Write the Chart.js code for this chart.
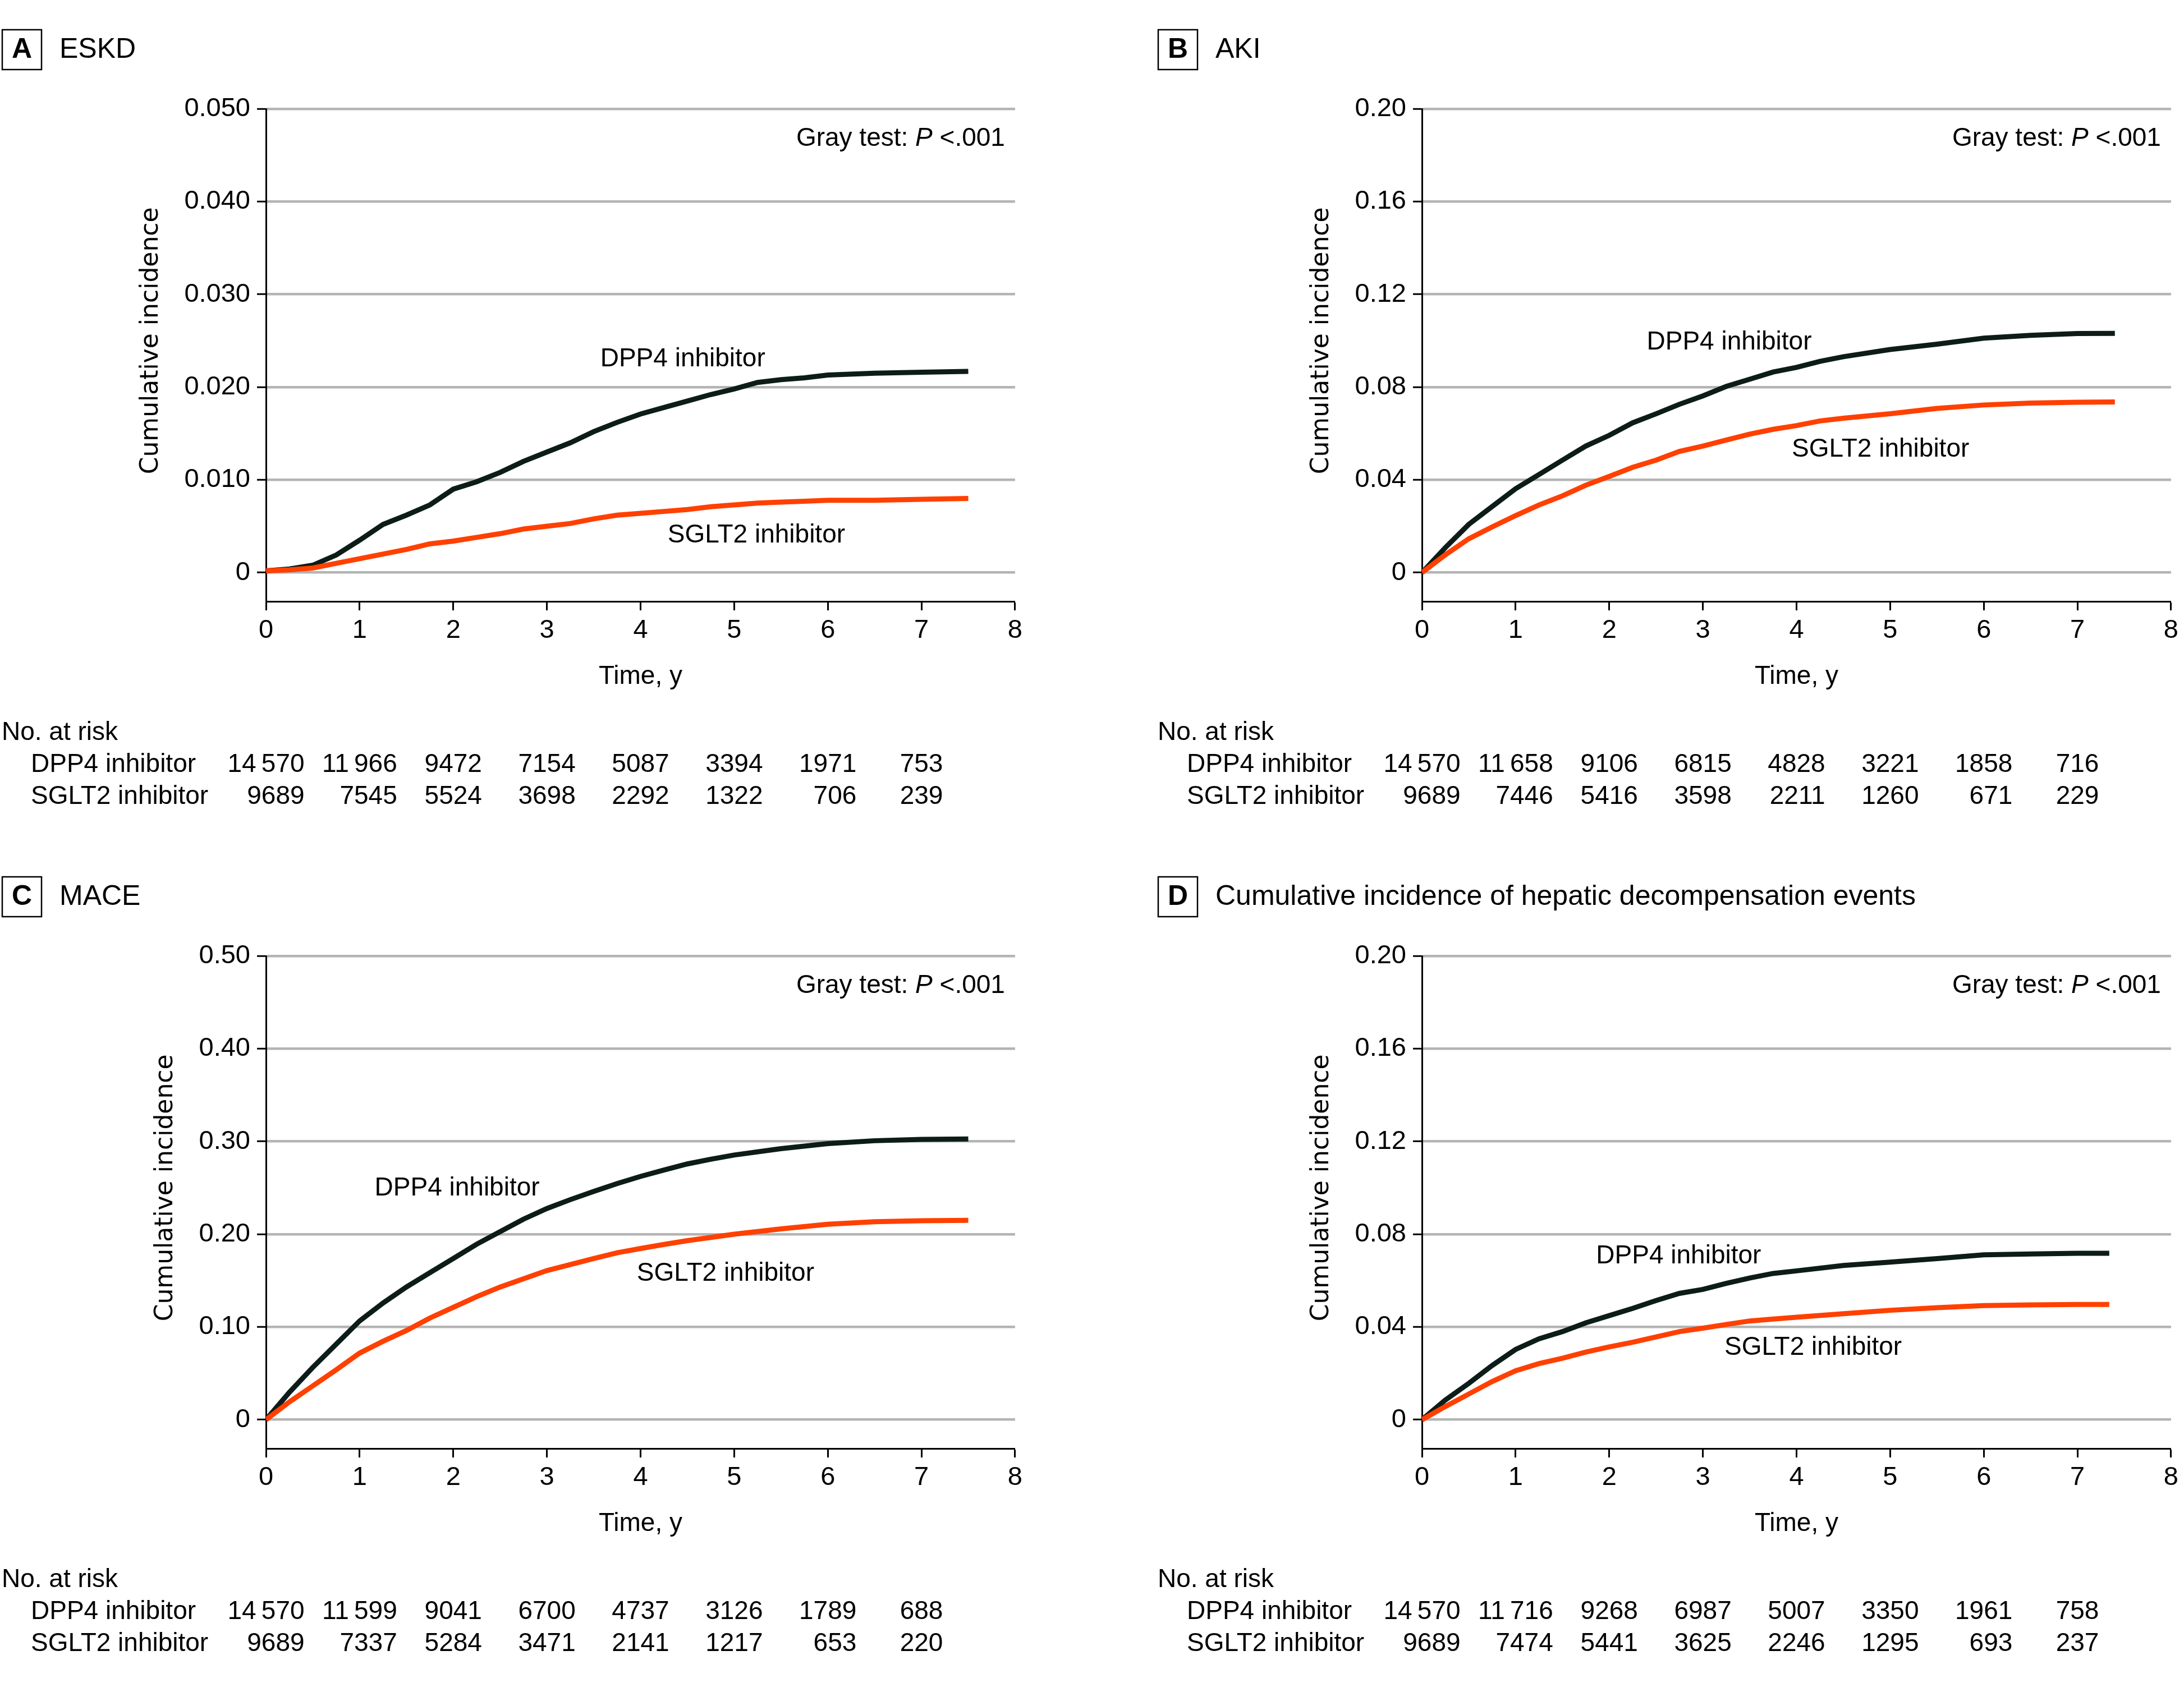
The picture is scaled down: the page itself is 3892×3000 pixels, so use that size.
<!DOCTYPE html>
<html lang="en">
<head>
<meta charset="UTF-8">
<title>Cumulative incidence: SGLT2 vs DPP4 inhibitor</title>
<script src="https://cdn.jsdelivr.net/npm/chart.js"></script>
<style>
  body { margin: 0; background: #fff; width: 3892px; height: 3000px; position: relative; overflow: hidden; }
  canvas { position: absolute; }
</style>
</head>
<body>
<canvas id="panelA" width="1830" height="1490" style="left:0px; top:0px;"></canvas>
<canvas id="panelB" width="1830" height="1490" style="left:2060px; top:0px;"></canvas>
<canvas id="panelC" width="1830" height="1490" style="left:0px; top:1510px;"></canvas>
<canvas id="panelD" width="1830" height="1490" style="left:2060px; top:1510px;"></canvas>

<script>
// ---- data ----
const seriesNames = ["DPP4 inhibitor", "SGLT2 inhibitor"]
const xTickLabels = ["0", "1", "2", "3", "4", "5", "6", "7", "8"]

// A  ESKD
const timesA = [0, 0.25, 0.5, 0.75, 1, 1.25, 1.5, 1.75, 2, 2.25, 2.5, 2.75, 3, 3.25, 3.5, 3.75, 4, 4.25, 4.5, 4.75, 5, 5.25, 5.5, 5.75, 6, 6.5, 7, 7.5]
const dpp4A = [0.0002, 0.0004, 0.0008, 0.0019, 0.0035, 0.0052, 0.0062, 0.0073, 0.0090, 0.0098, 0.0108, 0.0120, 0.0130, 0.0140, 0.0152, 0.0162, 0.0171, 0.0178, 0.0185, 0.0192, 0.0198, 0.0205, 0.0208, 0.0210, 0.0213, 0.0215, 0.0216, 0.0217]
const sglt2A = [0.0002, 0.0003, 0.0005, 0.0010, 0.0015, 0.0020, 0.0025, 0.0031, 0.0034, 0.0038, 0.0042, 0.0047, 0.0050, 0.0053, 0.0058, 0.0062, 0.0064, 0.0066, 0.0068, 0.0071, 0.0073, 0.0075, 0.0076, 0.0077, 0.0078, 0.0078, 0.0079, 0.0080]
const yTickLabelsA = ["0", "0.010", "0.020", "0.030", "0.040", "0.050"]
const riskDpp4A = [14570, 11966, 9472, 7154, 5087, 3394, 1971, 753]
const riskSglt2A = [9689, 7545, 5524, 3698, 2292, 1322, 706, 239]

// B  AKI
const timesB = [0, 0.25, 0.5, 0.75, 1, 1.25, 1.5, 1.75, 2, 2.25, 2.5, 2.75, 3, 3.25, 3.5, 3.75, 4, 4.25, 4.5, 5, 5.5, 6, 6.5, 7, 7.4]
const dpp4B = [0, 0.0108, 0.0208, 0.0285, 0.0362, 0.0423, 0.0485, 0.0546, 0.0592, 0.0646, 0.0685, 0.0726, 0.0762, 0.0803, 0.0834, 0.0865, 0.0885, 0.0911, 0.0931, 0.0962, 0.0985, 0.1011, 0.1023, 0.1031, 0.1032]
const sglt2B = [0, 0.0077, 0.0146, 0.0197, 0.0246, 0.0292, 0.0331, 0.0377, 0.0415, 0.0454, 0.0485, 0.0523, 0.0546, 0.0572, 0.0597, 0.0618, 0.0634, 0.0654, 0.0666, 0.0685, 0.0708, 0.0723, 0.0731, 0.0735, 0.0736]
const yTickLabelsB = ["0", "0.04", "0.08", "0.12", "0.16", "0.20"]
const riskDpp4B = [14570, 11658, 9106, 6815, 4828, 3221, 1858, 716]
const riskSglt2B = [9689, 7446, 5416, 3598, 2211, 1260, 671, 229]

// C  MACE
const timesC = [0, 0.25, 0.5, 0.75, 1, 1.25, 1.5, 1.75, 2, 2.25, 2.5, 2.75, 3, 3.25, 3.5, 3.75, 4, 4.25, 4.5, 4.75, 5, 5.5, 6, 6.5, 7, 7.5]
const dpp4C = [0, 0.0296, 0.0565, 0.0815, 0.1065, 0.1258, 0.1431, 0.1585, 0.1738, 0.1892, 0.2027, 0.2162, 0.2277, 0.2373, 0.2462, 0.2546, 0.2623, 0.2692, 0.2758, 0.2808, 0.2854, 0.2923, 0.2977, 0.3008, 0.3023, 0.3027]
const sglt2C = [0, 0.0192, 0.0365, 0.0538, 0.0719, 0.0846, 0.0962, 0.1096, 0.1212, 0.1327, 0.1431, 0.1519, 0.1608, 0.1673, 0.1738, 0.1800, 0.1846, 0.1890, 0.1931, 0.1965, 0.2000, 0.2058, 0.2108, 0.2135, 0.2146, 0.2150]
const yTickLabelsC = ["0", "0.10", "0.20", "0.30", "0.40", "0.50"]
const riskDpp4C = [14570, 11599, 9041, 6700, 4737, 3126, 1789, 688]
const riskSglt2C = [9689, 7337, 5284, 3471, 2141, 1217, 653, 220]

// D  hepatic decompensation
const timesD = [0, 0.25, 0.5, 0.75, 1, 1.25, 1.5, 1.75, 2, 2.25, 2.5, 2.75, 3, 3.25, 3.5, 3.75, 4, 4.5, 5, 5.5, 6, 6.5, 7, 7.34]
const dpp4D = [0, 0.0085, 0.0157, 0.0234, 0.0303, 0.0349, 0.0380, 0.0418, 0.0449, 0.0480, 0.0514, 0.0545, 0.0562, 0.0588, 0.0611, 0.0631, 0.0642, 0.0665, 0.0680, 0.0695, 0.0711, 0.0715, 0.0718, 0.0718]
const sglt2D = [0, 0.0057, 0.0111, 0.0165, 0.0211, 0.0242, 0.0265, 0.0292, 0.0314, 0.0334, 0.0357, 0.0380, 0.0395, 0.0411, 0.0426, 0.0434, 0.0442, 0.0457, 0.0472, 0.0483, 0.0492, 0.0495, 0.0497, 0.0497]
const yTickLabelsD = ["0", "0.04", "0.08", "0.12", "0.16", "0.20"]
const riskDpp4D = [14570, 11716, 9268, 6987, 5007, 3350, 1961, 758]
const riskSglt2D = [9689, 7474, 5441, 3625, 2246, 1295, 693, 237]

// ---- look ----
const FONT = '"Liberation Sans", Arial, sans-serif'
const BLACK_LINE = '#0c1c19'
const ORANGE_LINE = '#ff4000'

// where the in-plot curve labels sit (data coords of their left/middle)
const panels = {
  panelA: { letter: "A", title: "ESKD", times: timesA, dpp4: dpp4A, sglt2: sglt2A, yLabels: yTickLabelsA,
            risk: [riskDpp4A, riskSglt2A], dppAt: [3.57, 0.0230], sgltAt: [4.29, 0.0040] },
  panelB: { letter: "B", title: "AKI", times: timesB, dpp4: dpp4B, sglt2: sglt2B, yLabels: yTickLabelsB,
            risk: [riskDpp4B, riskSglt2B], dppAt: [2.40, 0.0992], sgltAt: [3.95, 0.0530] },
  panelC: { letter: "C", title: "MACE", times: timesC, dpp4: dpp4C, sglt2: sglt2C, yLabels: yTickLabelsC,
            risk: [riskDpp4C, riskSglt2C], dppAt: [1.16, 0.2496], sgltAt: [3.96, 0.1577] },
  panelD: { letter: "D", title: "Cumulative incidence of hepatic decompensation events", times: timesD, dpp4: dpp4D, sglt2: sglt2D, yLabels: yTickLabelsD,
            risk: [riskDpp4D, riskSglt2D], dppAt: [1.86, 0.0706], sgltAt: [3.23, 0.0311] }
}

const fmtRisk = n => n >= 10000 ? String(n).slice(0, -3) + '\u2009' + String(n).slice(-3) : String(n)

// draws header, annotations, axis titles and the at-risk table
const decoPlugin = {
  id: 'deco',
  afterDraw(chart) {
    const p = panels[chart.canvas.id]
    const ctx = chart.ctx
    const a = chart.chartArea
    const xs = chart.scales.x
    const ys = chart.scales.y
    ctx.save()
    ctx.fillStyle = '#000'
    ctx.strokeStyle = '#000'

    // header
    ctx.lineWidth = 2.5
    ctx.strokeRect(4, 53, 70, 71)
    ctx.textBaseline = 'middle'
    ctx.textAlign = 'center'
    ctx.font = 'bold 50px ' + FONT
    ctx.fillText(p.letter, 39, 89)
    ctx.textAlign = 'left'
    ctx.font = '50px ' + FONT
    ctx.fillText(p.title, 106, 89)

    // Gray test
    const segs = [['Gray test: ', ''], ['P', 'italic '], [' <.001', '']]
    let w = 0
    segs.forEach(s => { ctx.font = s[1] + '46px ' + FONT; w += ctx.measureText(s[0]).width })
    let gx = a.right - 18 - w
    segs.forEach(s => {
      ctx.font = s[1] + '46px ' + FONT
      ctx.fillText(s[0], gx, a.top + 53)
      gx += ctx.measureText(s[0]).width
    })

    // curve labels
    ctx.font = '46px ' + FONT
    ctx.fillText(seriesNames[0], xs.getPixelForValue(p.dppAt[0]), ys.getPixelForValue(p.dppAt[1]))
    ctx.fillText(seriesNames[1], xs.getPixelForValue(p.sgltAt[0]), ys.getPixelForValue(p.sgltAt[1]))

    // y title
    ctx.font = '47px ' + FONT
    const maxW = Math.max(...p.yLabels.map(l => ctx.measureText(l).width))
    const cx = a.left - 16 - 12 - maxW - 59
    const cy = (ys.getPixelForValue(0) + ys.getPixelForValue(Number(p.yLabels[p.yLabels.length - 1]))) / 2
    ctx.save()
    ctx.translate(cx, cy)
    ctx.rotate(-Math.PI / 2)
    ctx.textAlign = 'center'
    ctx.font = '44px "DejaVu Sans", Verdana, sans-serif'
    ctx.fillText('Cumulative incidence', 0, 0)
    ctx.restore()

    // x title
    ctx.font = '46px ' + FONT
    ctx.textAlign = 'center'
    ctx.fillText('Time, y', (a.left + a.right) / 2, a.bottom + 134)

    // number at risk
    ctx.textAlign = 'left'
    ctx.fillText('No. at risk', 3, a.bottom + 234)
    ctx.fillText(seriesNames[0], 55, a.bottom + 291)
    ctx.fillText(seriesNames[1], 55, a.bottom + 348)
    ctx.textAlign = 'right'
    for (let i = 0; i < p.risk[0].length; i++) {
      const s1 = fmtRisk(p.risk[0][i])
      const s2 = fmtRisk(p.risk[1][i])
      const cw = Math.max(ctx.measureText(s1).width, ctx.measureText(s2).width)
      const rx = xs.getPixelForValue(i) + cw / 2
      ctx.fillText(s1, rx, a.bottom + 291)
      ctx.fillText(s2, rx, a.bottom + 348)
    }
    ctx.restore()
  }
}

function makeChart(id) {
  const p = panels[id]
  const yTicks = p.yLabels.map(Number)
  const step = yTicks[1]
  return new Chart(document.getElementById(id), {
    type: 'line',
    data: {
      datasets: [
        {
          label: seriesNames[1],
          data: p.times.map((t, i) => ({ x: t, y: p.sglt2[i] })),
          borderColor: ORANGE_LINE,
          borderWidth: 9,
          pointRadius: 0,
          tension: 0,
          order: 0
        },
        {
          label: seriesNames[0],
          data: p.times.map((t, i) => ({ x: t, y: p.dpp4[i] })),
          borderColor: BLACK_LINE,
          borderWidth: 9,
          pointRadius: 0,
          tension: 0,
          order: 1
        }
      ]
    },
    options: {
      responsive: false,
      animation: false,
      events: [],
      layout: { padding: { top: 194, right: 16, left: 0, bottom: 0 } },
      plugins: { legend: { display: false }, tooltip: { enabled: false } },
      scales: {
        x: {
          type: 'linear',
          min: 0,
          max: 8,
          afterFit: s => { s.height = 418 },
          ticks: {
            stepSize: 1,
            autoSkip: false,
            maxRotation: 0,
            color: '#000',
            padding: 8,
            font: { family: FONT, size: 47 },
            callback: (v, i) => xTickLabels[i]
          },
          grid: { drawOnChartArea: false, drawTicks: true, tickLength: 16, tickColor: '#000', tickWidth: 3 },
          border: { display: true, color: '#000', width: 3 }
        },
        y: {
          type: 'linear',
          min: -0.31 * step,
          max: yTicks[yTicks.length - 1],
          afterFit: s => { s.width = 474 },
          afterBuildTicks: s => { s.ticks = yTicks.map(v => ({ value: v })) },
          ticks: {
            color: '#000',
            padding: 12,
            font: { family: FONT, size: 47 },
            callback: (v, i) => p.yLabels[i]
          },
          grid: { color: '#b4b4b4', lineWidth: 4.5, drawTicks: true, tickLength: 16, tickColor: '#000', tickWidth: 3 },
          border: { display: true, color: '#000', width: 3 }
        }
      }
    },
    plugins: [decoPlugin]
  })
}

const charts = ['panelA', 'panelB', 'panelC', 'panelD'].map(makeChart)
</script>
</body>
</html>
